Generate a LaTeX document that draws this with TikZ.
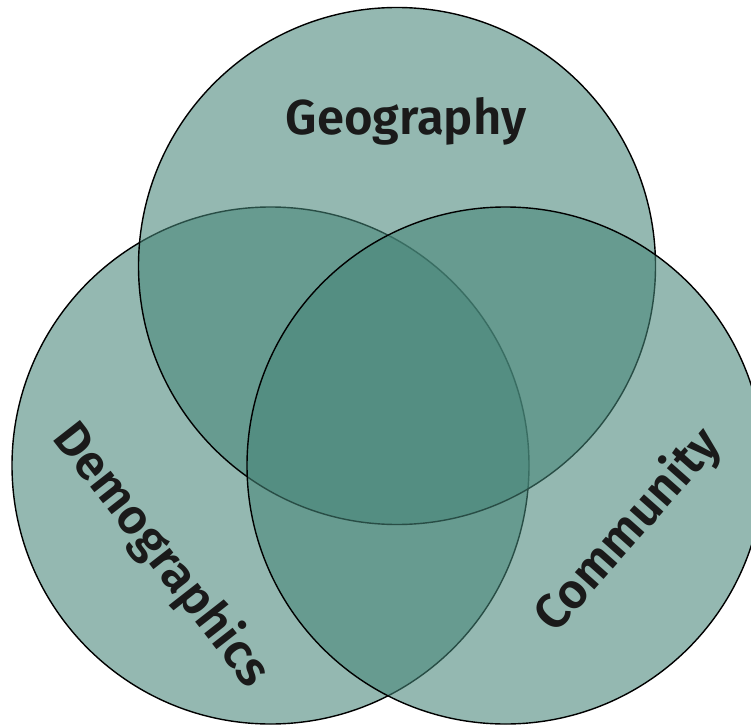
\documentclass[tikz,border=0pt]{standalone}
\usepackage{fontspec}
\setmainfont{Fira Sans}[BoldFont={Fira Sans SemiBold}]
\definecolor{vennc}{RGB}{70,133,120}
\definecolor{labelc}{RGB}{26,26,26}
\begin{document}
\begin{tikzpicture}[x=1pt,y=1pt,
  venn/.style={circle, inner sep=0pt, minimum size=517pt, fill=vennc, fill opacity=0.58, draw=black, draw opacity=1, line width=1.4pt},
  lbl/.style={font=\fontsize{49}{55}\selectfont\bfseries, text=labelc, inner sep=0pt, anchor=base}]
\useasboundingbox (0,0) rectangle (751,724);
\node[venn] (demo) at (270.5,258.5) {};
\node[venn] (geo)  at (397,458) {};
\node[venn] (comm) at (505.5,258.5) {};
\node[lbl] (geot) at (406,589) {Geography};
\node[lbl, rotate=-52] (demot) at (150,160) {Demographics};
\node[lbl, rotate=48.5] (commt) at (639,184) {Community};
\end{tikzpicture}
\end{document}
